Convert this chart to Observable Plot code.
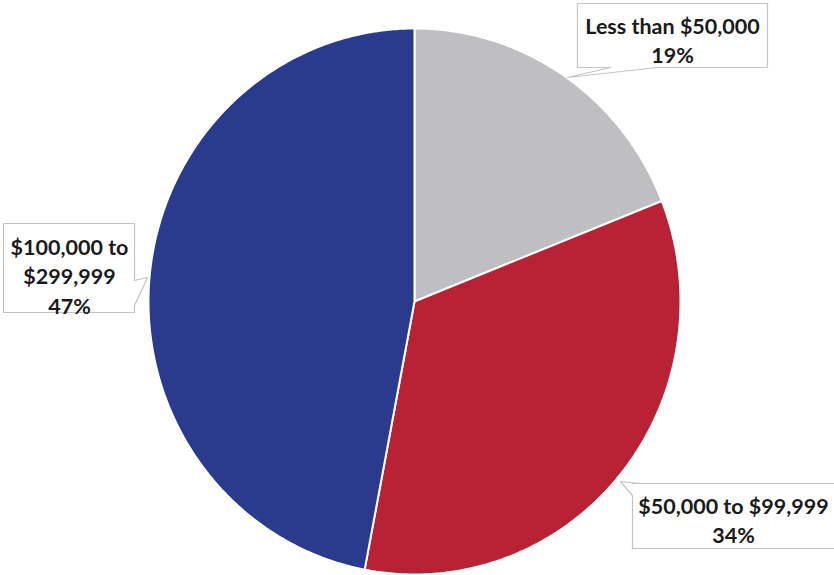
<!DOCTYPE html>
<html>
<head>
<meta charset="utf-8">
<script src="https://cdn.jsdelivr.net/npm/d3@7"></script>
<script src="https://cdn.jsdelivr.net/npm/@observablehq/plot@0.6"></script>
<style>
  html, body { margin: 0; padding: 0; background: #fff; }
  #chart svg { display: block; }
</style>
</head>
<body>
<div id="chart"></div>
<script>
// ---- data ----
const categories = ["Less than $50,000", "$50,000 to $99,999", "$100,000 to\n$299,999"];
const values = [19, 34, 47];
const colors = ["#bfbfc1", "#b82234", "#2a3a8c"];

// ---- layout (pixels) ----
const W = 834, H = 575;
const CX = 414, CY = 301, RX = 266, RY = 273;

// label boxes: polygon outline with callout pointer, and text anchor
const labelLayout = [
  { box: [[577,3],[767,3],[767,67],[657,67],[567,77],[610,67],[577,67],[577,3]], tx: 672, ty: 12 },
  { box: [[632,483],[640,483],[836,483],[836,548],[632,548],[632,495],[620,481],[640,483]], tx: 733, ty: 492 },
  { box: [[3,223],[134,223],[134,280],[147,277],[134,305],[134,312],[3,312],[3,223]], tx: 69, ty: 233 }
];

// ---- pie geometry from values ----
const total = d3.sum(values);
let acc = 0;
const slices = values.map((v, i) => {
  const a0 = acc / total * 2 * Math.PI;
  acc += v;
  const a1 = acc / total * 2 * Math.PI;
  const n = Math.max(2, Math.ceil((a1 - a0) / (Math.PI / 360)));
  const pts = [{x: CX, y: CY}];
  for (let k = 0; k <= n; k++) {
    const a = a0 + (a1 - a0) * k / n;
    pts.push({x: CX + RX * Math.sin(a), y: CY - RY * Math.cos(a)});
  }
  pts.push({x: CX, y: CY});
  return {pts, color: colors[i]};
});

const labels = categories.map((c, i) => ({
  text: c + "\n" + values[i] + "%",
  x: labelLayout[i].tx,
  y: labelLayout[i].ty
}));

const marks = [];
slices.forEach(s => {
  marks.push(Plot.line(s.pts, {x: "x", y: "y", fill: s.color, stroke: "#ffffff", strokeWidth: 2, strokeLinejoin: "round", curve: "linear"}));
});
labelLayout.forEach(l => {
  marks.push(Plot.line(l.box.map(([x, y]) => ({x, y})), {x: "x", y: "y", fill: "#ffffff", stroke: "#c4c4c4", strokeWidth: 1.2, curve: "linear"}));
});
marks.push(Plot.text(labels, {
  x: "x", y: "y", text: "text",
  textAnchor: "middle", lineAnchor: "top", lineHeight: 1.38,
  fontSize: 21.5, fontWeight: "bold", fill: "#1a1a1a",
  fontFamily: "Lato, 'Open Sans', sans-serif"
}));

const chart = Plot.plot({
  width: W, height: H,
  margin: 0,
  x: {domain: [0, W], range: [0, W], axis: null},
  y: {domain: [0, H], range: [0, H], axis: null},
  style: {background: "#fff"},
  marks
});
document.getElementById("chart").appendChild(chart);
</script>
</body>
</html>
